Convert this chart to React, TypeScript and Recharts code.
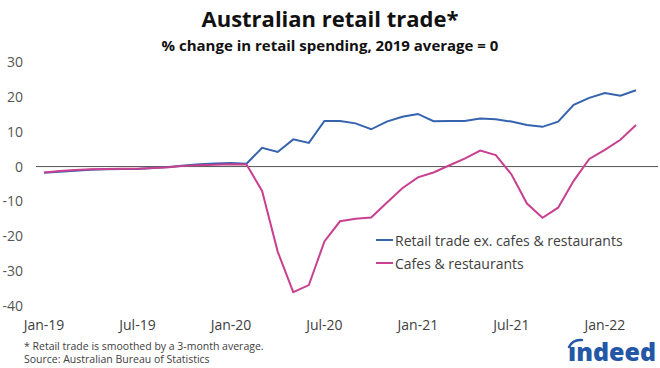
import { LineChart, Line, XAxis, YAxis, CartesianGrid } from "recharts";

const months = [
  "Jan-19", "Feb-19", "Mar-19", "Apr-19", "May-19", "Jun-19",
  "Jul-19", "Aug-19", "Sep-19", "Oct-19", "Nov-19", "Dec-19",
  "Jan-20", "Feb-20", "Mar-20", "Apr-20", "May-20", "Jun-20",
  "Jul-20", "Aug-20", "Sep-20", "Oct-20", "Nov-20", "Dec-20",
  "Jan-21", "Feb-21", "Mar-21", "Apr-21", "May-21", "Jun-21",
  "Jul-21", "Aug-21", "Sep-21", "Oct-21", "Nov-21", "Dec-21",
  "Jan-22", "Feb-22", "Mar-22",
];

const retailExCafes = [
  -1.8, -1.5, -1.2, -0.9, -0.8, -0.7, -0.7, -0.4, -0.1, 0.3, 0.7, 0.9,
  1.0, 0.8, 5.4, 4.2, 7.8, 6.8, 13.1, 13.1, 12.4, 10.7, 12.9, 14.3,
  15.1, 13.0, 13.1, 13.1, 13.8, 13.6, 12.9, 11.9, 11.4, 12.9, 17.7, 19.7,
  21.1, 20.3, 21.9,
];

const cafesRestaurants = [
  -1.7, -1.3, -1.0, -0.8, -0.7, -0.6, -0.6, -0.4, -0.2, 0.2, 0.4, 0.5,
  0.7, 0.6, -7.0, -24.4, -36.0, -34.0, -21.5, -15.7, -15.0, -14.6, -10.4, -6.2,
  -3.1, -1.7, 0.3, 2.3, 4.6, 3.3, -2.2, -10.6, -14.7, -11.8, -4.1, 2.2,
  4.8, 7.7, 11.9,
];

const yTicks = [-40, -30, -20, -10, 0, 10, 20, 30];

const BLUE = "#3563AE";
const PINK = "#C9408F";
const TEXT = "#404040";

const data = months.map((m, i) => ({
  month: m,
  retail: retailExCafes[i],
  cafes: cafesRestaurants[i],
}));

const font = "'Open Sans', 'Noto Sans', sans-serif";

export default function App() {
  return (
    <div
      style={{
        position: "absolute",
        left: 0,
        top: 0,
        width: 660,
        height: 368,
        overflow: "hidden",
        background: "#fff",
        fontFamily: font,
      }}
    >
      <div
        style={{
          position: "absolute",
          top: 3,
          width: 660,
          textAlign: "center",
          fontSize: 22,
          fontWeight: 700,
          color: "#111",
          lineHeight: "30px",
        }}
      >
        Australian retail trade*
      </div>
      <div
        style={{
          position: "absolute",
          top: 35,
          width: 660,
          textAlign: "center",
          fontSize: 15,
          fontWeight: 700,
          color: "#111",
          lineHeight: "20px",
        }}
      >
        % change in retail spending, 2019 average = 0
      </div>

      <div style={{ position: "absolute", left: 0, top: 0 }}>
        <LineChart
          width={660}
          height={368}
          data={data}
          margin={{ top: 62, right: 2, bottom: 32, left: 0 }}
          style={{ fontFamily: font }}
        >
          <CartesianGrid
            vertical={false}
            horizontalValues={[0]}
            stroke="#555"
            strokeWidth={1}
          />
          <XAxis
            dataKey="month"
            interval={5}
            height={30}
            axisLine={false}
            tickLine={false}
            tickSize={0}
            tickMargin={14}
            padding={{ left: 8, right: 22 }}
            tick={{ fill: TEXT, fontSize: 14 }}
          />
          <YAxis
            domain={[-40, 30]}
            ticks={yTicks}
            width={36}
            axisLine={false}
            tickLine={false}
            tickSize={0}
            tickMargin={13}
            tick={{ fill: "#555", fontSize: 14 }}
          />
          <Line
            dataKey="retail"
            stroke={BLUE}
            strokeWidth={2}
            dot={false}
            isAnimationActive={false}
          />
          <Line
            dataKey="cafes"
            stroke={PINK}
            strokeWidth={2}
            dot={false}
            isAnimationActive={false}
          />
        </LineChart>
      </div>

      {[
        { label: "Retail trade ex. cafes & restaurants", color: BLUE, y: 240 },
        { label: "Cafes & restaurants", color: PINK, y: 263 },
      ].map((d) => (
        <div
          key={d.label}
          style={{
            position: "absolute",
            left: 376,
            top: d.y - 10,
            height: 20,
            display: "flex",
            alignItems: "center",
            fontSize: 14,
            color: TEXT,
          }}
        >
          <span
            style={{
              display: "inline-block",
              width: 17,
              height: 2,
              background: d.color,
              marginRight: 2,
            }}
          />
          {d.label}
        </div>
      ))}

      <div
        style={{
          position: "absolute",
          left: 24,
          top: 340,
          fontSize: 10.5,
          color: TEXT,
          lineHeight: "13px",
        }}
      >
        <div>* Retail trade is smoothed by a 3-month average.</div>
        <div>Source: Australian Bureau of Statistics</div>
      </div>

      <svg
        width={93}
        height={33}
        style={{ position: "absolute", left: 566, top: 335 }}
      >
        <path
          d="M3 12 Q7 4 16 5"
          stroke="#2557A7"
          strokeWidth={2.5}
          fill="none"
          strokeLinecap="round"
        />
        <text
          x={2}
          y={26}
          fontFamily={font}
          fontWeight={800}
          fontSize={24}
          fill="#2557A7"
          textLength={88}
          lengthAdjust="spacingAndGlyphs"
        >
          ındeed
        </text>
      </svg>
    </div>
  );
}
